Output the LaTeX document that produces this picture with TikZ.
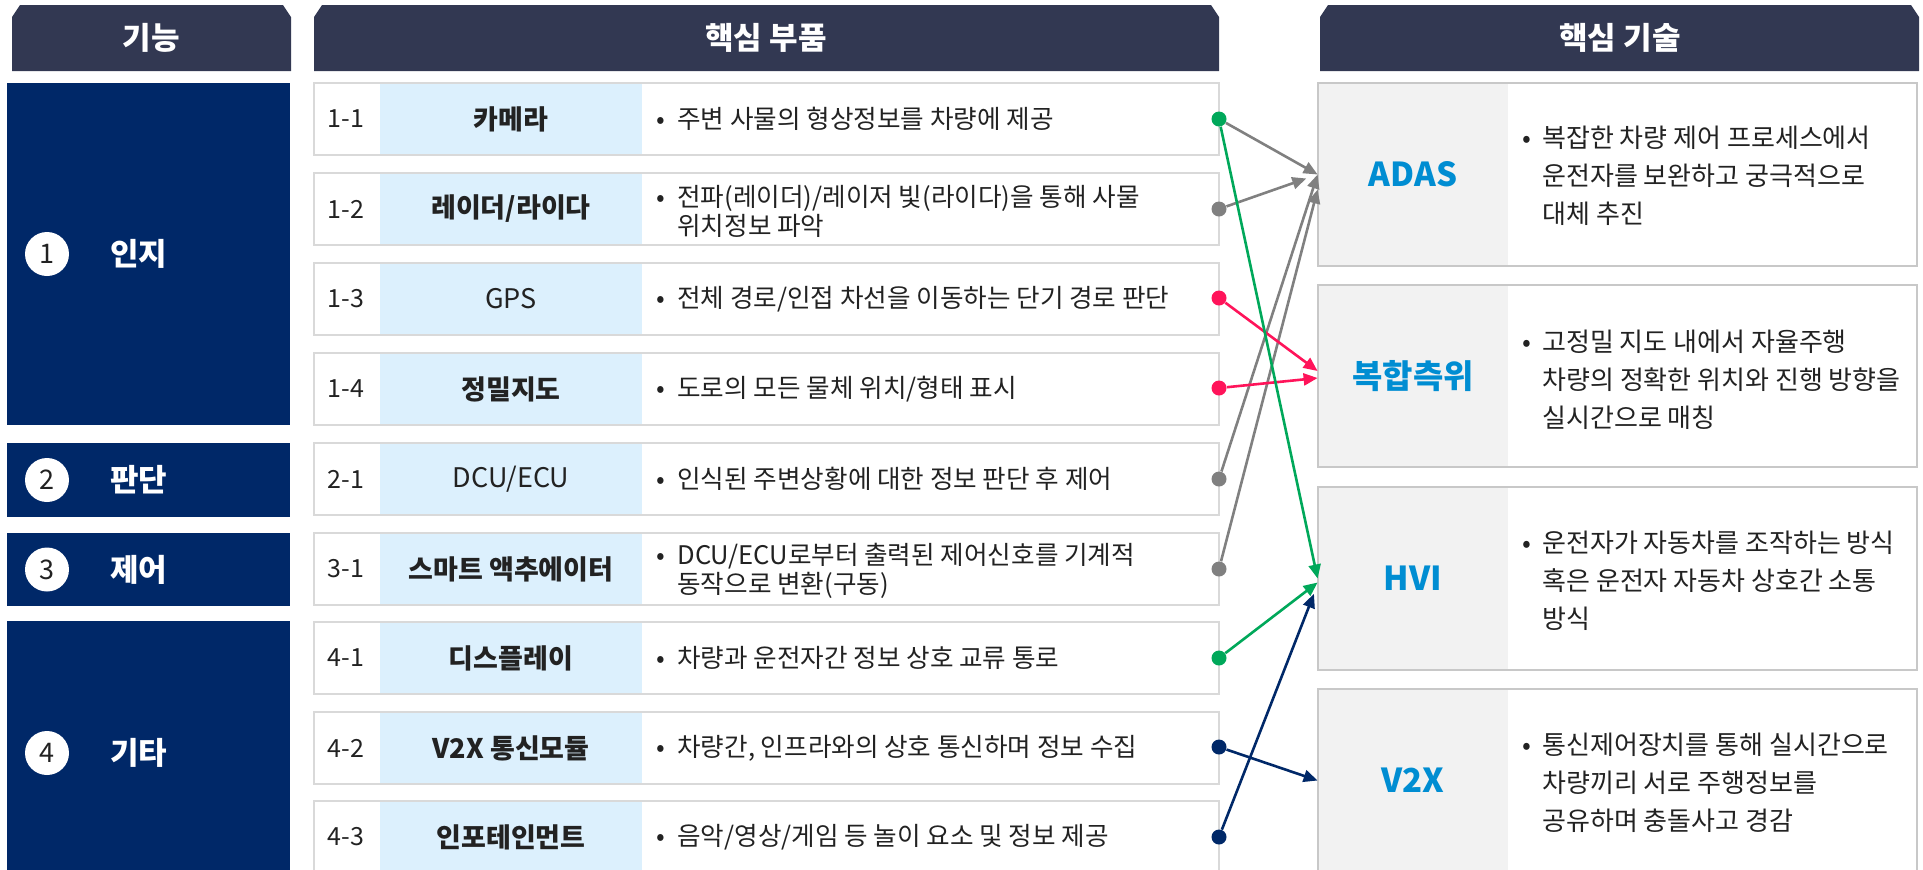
\documentclass[tikz,border=0pt]{standalone}
\usepackage{fontspec}
\setmainfont{Noto Sans CJK KR}
\usetikzlibrary{arrows.meta}
\usepackage{xcolor}
\definecolor{headcol}{RGB}{50,56,82}
\definecolor{funccol}{RGB}{0,40,104}
\definecolor{partcol}{RGB}{220,240,253}
\definecolor{techcol}{RGB}{242,242,242}
\definecolor{techtxt}{RGB}{0,141,210}
\definecolor{rowline}{RGB}{217,217,217}
\definecolor{techline}{RGB}{200,200,200}
\definecolor{txtcol}{RGB}{34,34,34}
\definecolor{arrgray}{RGB}{128,128,128}
\definecolor{arrgreen}{RGB}{0,168,90}
\definecolor{arrred}{RGB}{255,20,90}
\definecolor{arrnavy}{RGB}{0,40,104}

\begin{document}
\begin{tikzpicture}[x=0.5pt, y=-0.5pt,
  every node/.style={text=txtcol, inner sep=0pt},
  headtxt/.style={text=white, font=\fontsize{15.5}{18}\selectfont\bfseries},
  functxt/.style={text=white, anchor=west, font=\fontsize{15.5}{18}\selectfont\bfseries},
  numcirc/.style={circle, fill=white, minimum size=22pt, font=\fontsize{13.5}{15}\selectfont},
  rownum/.style={font=\fontsize{12.5}{14}\selectfont},
  rowbox/.style={draw=rowline, line width=0.8pt},
  techbox/.style={draw=techline, line width=0.8pt},
  partlbl/.style={fill=partcol, minimum width=131pt, minimum height=36pt, font=\fontsize{13.5}{16}\selectfont\bfseries},
  partdesc/.style={anchor=west, align=left, font=\fontsize{12.8}{14.5}\selectfont},
  techlbl/.style={fill=techcol, minimum width=95pt, minimum height=91.5pt, text=techtxt, font=\fontsize{16.5}{19}\selectfont\bfseries},
  techdesc/.style={anchor=west, align=left, font=\fontsize{13}{19}\selectfont},
  linkdot/.style={circle, fill=#1, minimum size=7.5pt},
  linkarr/.style={draw=#1, line width=1.3pt, -{Triangle[length=7pt,width=6pt]}},
]
  \useasboundingbox (0,0) rectangle (1923,869);

  % column headers
  \fill[headcol] (12,71) -- (12,17) -- (20,5) -- (283,5) -- (291,17) -- (291,71) -- cycle;
  \node[headtxt] (hfunc) at (151,38) {기능};
  \fill[headcol] (314,71) -- (314,17) -- (322,5) -- (1211,5) -- (1219,17) -- (1219,71) -- cycle;
  \node[headtxt] (hpart) at (766,38) {핵심 부품};
  \fill[headcol] (1320,71) -- (1320,17) -- (1328,5) -- (1911,5) -- (1919,17) -- (1919,71) -- cycle;
  \node[headtxt] (htech) at (1620,38) {핵심 기술};

  % functions
  \fill[funccol] (7,83) rectangle (290,425);
  \node[numcirc] (c1) at (47,254) {1};
  \node[functxt] (f1) at (110,254) {인지};
  \fill[funccol] (7,443) rectangle (290,517);
  \node[numcirc] (c2) at (47,480) {2};
  \node[functxt] (f2) at (110,480) {판단};
  \fill[funccol] (7,533) rectangle (290,606);
  \node[numcirc] (c3) at (47,569.5) {3};
  \node[functxt] (f3) at (110,569.5) {제어};
  \fill[funccol] (7,621) rectangle (290,885);
  \node[numcirc] (c4) at (47,753) {4};
  \node[functxt] (f4) at (110,753) {기타};

  % parts
  \node[partlbl] (p11) at (511,119) {카메라};
  \draw[rowbox] (314,83) rectangle (1219,155);
  \node[rownum] (n11) at (346,119) {1-1};
  \node[partdesc] (t11) at (677,119) {\llap{\makebox[17pt][c]{•}}주변 사물의 형상정보를 차량에 제공};
  \node[partlbl] (p12) at (511,209) {레이더/라이다};
  \draw[rowbox] (314,173) rectangle (1219,245);
  \node[rownum] (n12) at (346,209) {1-2};
  \node[partdesc] (t12) at (677,211) {\llap{\makebox[17pt][c]{•}}전파(레이더)/레이저 빛(라이다)을 통해 사물\\위치정보 파악};
  \node[partlbl] (p13) at (511,299) {\mdseries GPS};
  \draw[rowbox] (314,263) rectangle (1219,335);
  \node[rownum] (n13) at (346,299) {1-3};
  \node[partdesc] (t13) at (677,299) {\llap{\makebox[17pt][c]{•}}전체 경로/인접 차선을 이동하는 단기 경로 판단};
  \node[partlbl] (p14) at (511,389) {정밀지도};
  \draw[rowbox] (314,353) rectangle (1219,425);
  \node[rownum] (n14) at (346,389) {1-4};
  \node[partdesc] (t14) at (677,389) {\llap{\makebox[17pt][c]{•}}도로의 모든 물체 위치/형태 표시};
  \node[partlbl] (p21) at (511,479) {\mdseries DCU/ECU};
  \draw[rowbox] (314,443) rectangle (1219,515);
  \node[rownum] (n21) at (346,479) {2-1};
  \node[partdesc] (t21) at (677,479) {\llap{\makebox[17pt][c]{•}}인식된 주변상황에 대한 정보 판단 후 제어};
  \node[partlbl] (p31) at (511,569) {스마트 액추에이터};
  \draw[rowbox] (314,533) rectangle (1219,605);
  \node[rownum] (n31) at (346,569) {3-1};
  \node[partdesc] (t31) at (677,571) {\llap{\makebox[17pt][c]{•}}DCU/ECU로부터 출력된 제어신호를 기계적\\동작으로 변환(구동)};
  \node[partlbl] (p41) at (511,658) {디스플레이};
  \draw[rowbox] (314,622) rectangle (1219,694);
  \node[rownum] (n41) at (346,658) {4-1};
  \node[partdesc] (t41) at (677,658) {\llap{\makebox[17pt][c]{•}}차량과 운전자간 정보 상호 교류 통로};
  \node[partlbl] (p42) at (511,748) {V2X 통신모듈};
  \draw[rowbox] (314,712) rectangle (1219,784);
  \node[rownum] (n42) at (346,748) {4-2};
  \node[partdesc] (t42) at (677,748) {\llap{\makebox[17pt][c]{•}}차량간, 인프라와의 상호 통신하며 정보 수집};
  \node[partlbl] (p43) at (511,837) {인포테인먼트};
  \draw[rowbox] (314,801) rectangle (1219,873);
  \node[rownum] (n43) at (346,837) {4-3};
  \node[partdesc] (t43) at (677,837) {\llap{\makebox[17pt][c]{•}}음악/영상/게임 등 놀이 요소 및 정보 제공};

  % technologies
  \node[techlbl] (adas) at (1413,174.5) {ADAS};
  \draw[techbox] (1318,83) rectangle (1917,266);
  \node[techdesc] (tadas) at (1542,175.5) {\llap{\makebox[15pt][c]{•}}복잡한 차량 제어 프로세스에서\\운전자를 보완하고 궁극적으로\\대체 추진};
  \node[techlbl] (pos) at (1413,376) {복합측위};
  \draw[techbox] (1318,285) rectangle (1917,467);
  \node[techdesc] (tpos) at (1542,380) {\llap{\makebox[15pt][c]{•}}고정밀 지도 내에서 자율주행\\차량의 정확한 위치와 진행 방향을\\실시간으로 매칭};
  \node[techlbl] (hvi) at (1413,578.5) {HVI};
  \draw[techbox] (1318,487) rectangle (1917,670);
  \node[techdesc] (thvi) at (1542,581) {\llap{\makebox[15pt][c]{•}}운전자가 자동차를 조작하는 방식\\혹은 운전자 자동차 상호간 소통\\방식};
  \node[techlbl] (v2x) at (1413,780.5) {V2X};
  \draw[techbox] (1318,689) rectangle (1917,872);
  \node[techdesc] (tv2x) at (1542,783) {\llap{\makebox[15pt][c]{•}}통신제어장치를 통해 실시간으로\\차량끼리 서로 주행정보를\\공유하며 충돌사고 경감};

  % links
  \node[linkdot=arrgreen] (d11) at (1219,119) {};
  \node[linkdot=arrgray] (d12) at (1219,209) {};
  \node[linkdot=arrred] (d13) at (1219,298) {};
  \node[linkdot=arrred] (d14) at (1219,388) {};
  \node[linkdot=arrgray] (d21) at (1219,479) {};
  \node[linkdot=arrgray] (d31) at (1219,569) {};
  \node[linkdot=arrgreen] (d41) at (1219,658) {};
  \node[linkdot=arrnavy] (d42) at (1219,747) {};
  \node[linkdot=arrnavy] (d43) at (1219,837) {};
  \draw[linkarr=arrgray] (d11) -- (adas.west);
  \draw[linkarr=arrgray, shorten >=6pt] (d12) -- (adas.west);
  \draw[linkarr=arrgray] (d21) -- (adas.west);
  \draw[linkarr=arrgray] (d31) -- ([yshift=-7.5pt]adas.west);
  \draw[linkarr=arrred] (d13) -- ([yshift=2.5pt]pos.west);
  \draw[linkarr=arrred] (d14) -- ([yshift=-1pt]pos.west);
  \draw[linkarr=arrgreen] (d11) -- (hvi.west);
  \draw[linkarr=arrgreen] (d41) -- ([yshift=-2pt]hvi.west);
  \draw[linkarr=arrnavy, shorten >=5pt] (d43) -- ([yshift=-3pt]hvi.west);
  \draw[linkarr=arrnavy] (d42) -- (v2x.west);
\end{tikzpicture}
\end{document}
